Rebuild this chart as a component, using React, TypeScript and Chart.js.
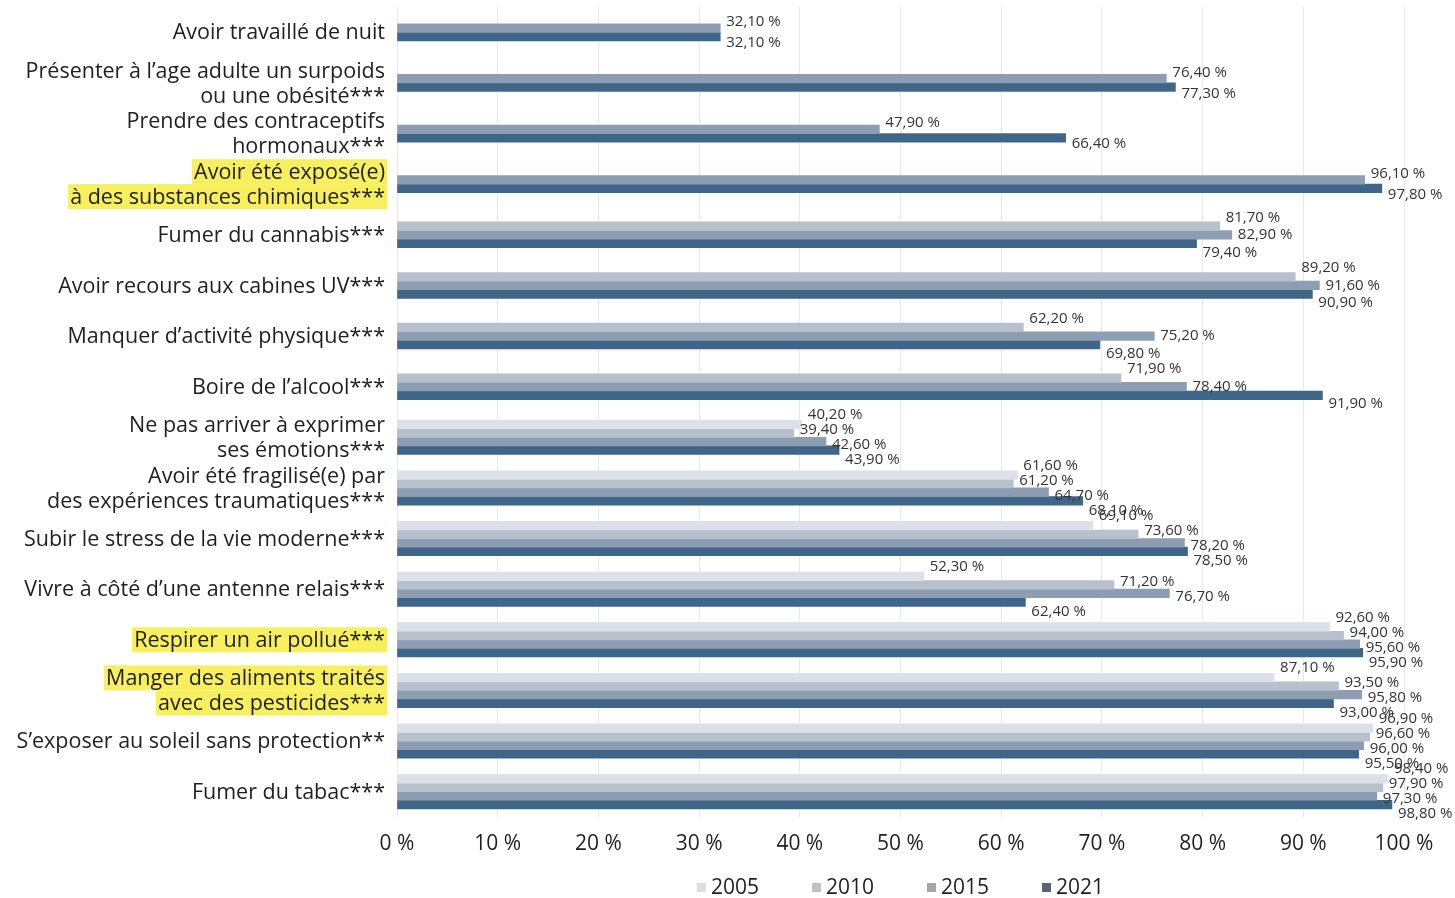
import { useEffect, useRef } from "react";
import { Chart, registerables } from "chart.js";

Chart.register(...registerables);

// Risk factors, top to bottom. Two-line labels are arrays.
const categories: (string | string[])[] = [
  "Avoir travaillé de nuit",
  ["Présenter à l’age adulte un surpoids", "ou une obésité***"],
  ["Prendre des contraceptifs", "hormonaux***"],
  ["Avoir été exposé(e)", "à des substances chimiques***"],
  "Fumer du cannabis***",
  "Avoir recours aux cabines UV***",
  "Manquer d’activité physique***",
  "Boire de l’alcool***",
  ["Ne pas arriver à exprimer", "ses émotions***"],
  ["Avoir été fragilisé(e) par", "des expériences traumatiques***"],
  "Subir le stress de la vie moderne***",
  "Vivre à côté d’une antenne relais***",
  "Respirer un air pollué***",
  ["Manger des aliments traités", "avec des pesticides***"],
  "S’exposer au soleil sans protection**",
  "Fumer du tabac***",
];

// Rows whose label is highlighted in yellow
const highlightedRows = [3, 12, 13];

const years = ["2005", "2010", "2015", "2021"];

// Share of respondents (%) per survey year; null = not asked that year
const values2005: (number | null)[] = [
  null, null, null, null, null, null, null, null,
  40.2, 61.6, 69.1, 52.3, 92.6, 87.1, 96.9, 98.4,
];
const values2010: (number | null)[] = [
  null, null, null, null, 81.7, 89.2, 62.2, 71.9,
  39.4, 61.2, 73.6, 71.2, 94.0, 93.5, 96.6, 97.9,
];
const values2015: (number | null)[] = [
  32.1, 76.4, 47.9, 96.1, 82.9, 91.6, 75.2, 78.4,
  42.6, 64.7, 78.2, 76.7, 95.6, 95.8, 96.0, 97.3,
];
const values2021: (number | null)[] = [
  32.1, 77.3, 66.4, 97.8, 79.4, 90.9, 69.8, 91.9,
  43.9, 68.1, 78.5, 62.4, 95.9, 93.0, 95.5, 98.8,
];

const xTicks = [0, 10, 20, 30, 40, 50, 60, 70, 80, 90, 100];

const barColors = ["#dce0e8", "#b7c0cd", "#8d9db2", "#3f6589"];
const legendColors = ["#dedede", "#c2c2c2", "#a3a6aa", "#5b636d"];

const FONT = '"Open Sans", "DejaVu Sans", sans-serif';
const TEXT = "#1f1f1f";

const fmt = (v: number) => v.toFixed(2).replace(".", ",") + " %";

// Category labels on the left, with yellow highlight behind selected rows
const rowLabelsPlugin = {
  id: "rowLabels",
  afterDraw(chart: any) {
    const { ctx, chartArea, scales } = chart;
    const yScale = scales.y;
    const right = chartArea.left - 12;
    const lineH = 25;
    ctx.save();
    ctx.font = `21.5px ${FONT}`;
    ctx.textAlign = "right";
    ctx.textBaseline = "middle";
    categories.forEach((label, i) => {
      const lines = Array.isArray(label) ? label : [label];
      const cy = yScale.getPixelForValue(i);
      lines.forEach((line, k) => {
        const ly = cy + (k - (lines.length - 1) / 2) * lineH;
        if (highlightedRows.includes(i)) {
          const w = ctx.measureText(line).width;
          ctx.fillStyle = "#f8ef5e";
          ctx.fillRect(right - w - 2, ly - lineH / 2, w + 4, lineH);
        }
        ctx.fillStyle = TEXT;
        ctx.fillText(line, right, ly + 1);
      });
    });
    ctx.restore();
  },
};

// Value labels beside the bar ends, spread vertically within each group
const valueLabelsPlugin = {
  id: "valueLabels",
  afterDatasetsDraw(chart: any) {
    const { ctx, scales } = chart;
    const yScale = scales.y;
    ctx.save();
    ctx.font = `15px ${FONT}`;
    ctx.fillStyle = "#333333";
    ctx.textAlign = "left";
    ctx.textBaseline = "middle";
    categories.forEach((_, i) => {
      const present: number[] = [];
      chart.data.datasets.forEach((ds: any, d: number) => {
        if (ds.data[i] !== null && ds.data[i] !== undefined) present.push(d);
      });
      const n = present.length;
      const step = n <= 2 ? 21 : n === 3 ? 17.5 : 15;
      const cy = yScale.getPixelForValue(i);
      present.forEach((d, k) => {
        const el = chart.getDatasetMeta(d).data[i];
        const v = chart.data.datasets[d].data[i];
        const ly = cy + (k - (n - 1) / 2) * step;
        ctx.fillText(fmt(v), el.x + 6, ly);
      });
    });
    ctx.restore();
  },
};

// Legend row centred under the plot area
const legendRowPlugin = {
  id: "legendRow",
  afterDraw(chart: any) {
    const { ctx, chartArea } = chart;
    const box = 9;
    const boxGap = 5;
    const itemGap = 53;
    const y = 887;
    ctx.save();
    ctx.font = `21px ${FONT}`;
    ctx.textBaseline = "middle";
    ctx.textAlign = "left";
    const widths = years.map((t) => box + boxGap + ctx.measureText(t).width);
    const total = widths.reduce((a, b) => a + b, 0) + itemGap * (years.length - 1);
    let x = (chartArea.left + chartArea.right) / 2 - total / 2;
    years.forEach((t, i) => {
      ctx.fillStyle = legendColors[i];
      ctx.fillRect(x, y - 4, box, box);
      ctx.fillStyle = TEXT;
      ctx.fillText(t, x + box + boxGap, y + 1);
      x += widths[i] + itemGap;
    });
    ctx.restore();
  },
};

export default function App() {
  const canvasRef = useRef<HTMLCanvasElement | null>(null);

  useEffect(() => {
    if (!canvasRef.current) return;
    const series = [values2005, values2010, values2015, values2021];
    const chart = new Chart(canvasRef.current, {
      type: "bar",
      data: {
        labels: categories as any,
        datasets: series.map((data, i) => ({
          label: years[i],
          data,
          backgroundColor: barColors[i],
          borderWidth: 0,
          barThickness: 8.6,
          skipNull: true,
        })) as any,
      },
      options: {
        indexAxis: "y",
        responsive: false,
        animation: false,
        layout: { padding: { left: 0, right: 51, top: 7, bottom: 41 } },
        plugins: {
          legend: { display: false },
          tooltip: { enabled: false },
        },
        scales: {
          x: {
            min: 0,
            max: 100,
            afterBuildTicks(scale: any) {
              scale.ticks = xTicks.map((v) => ({ value: v }));
            },
            afterFit(scale: any) {
              scale.height = 40;
            },
            grid: { color: "#e8e8e8", drawTicks: false },
            border: { display: false },
            ticks: {
              padding: 14,
              color: TEXT,
              font: { family: FONT, size: 21 },
              callback: (v: any) => `${v} %`,
            },
          },
          y: {
            afterFit(scale: any) {
              scale.width = 397;
            },
            grid: { display: false },
            border: { display: false },
            ticks: { display: false },
          },
        },
      },
      plugins: [rowLabelsPlugin, valueLabelsPlugin, legendRowPlugin],
    });
    return () => chart.destroy();
  }, []);

  return (
    <div style={{ position: "fixed", left: 0, top: 0, width: 1455, height: 898, background: "#fff" }}>
      <canvas ref={canvasRef} width={1455} height={898} style={{ display: "block" }} />
    </div>
  );
}
